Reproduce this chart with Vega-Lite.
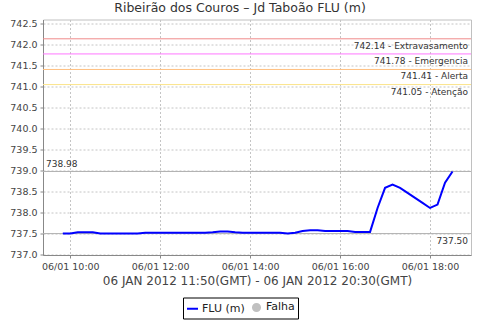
{
  "$schema": "https://vega.github.io/schema/vega-lite/v6.json",
  "width": 428,
  "height": 235.5,
  "autosize": "none",
  "padding": {"left": 43, "top": 19.5, "right": 9, "bottom": 65},
  "background": "white",
  "title": {"text": "Ribeirão dos Couros – Jd Taboão FLU (m)", "anchor": "middle", "dx": -17, "offset": 4, "fontSize": 12.5, "font": "DejaVu Sans", "fontWeight": "normal", "color": "#333333"},
  "config": {
    "view": {"stroke": "#c0c0c0", "strokeWidth": 1},
    "axis": {"labelFont": "DejaVu Sans", "titleFont": "DejaVu Sans", "labelColor": "#444444", "titleColor": "#444444", "domainColor": "#888888", "tickColor": "#888888", "tickSize": 3, "labelFontSize": 9.5}
  },
  "datasets": {
    "flu": [
      {"t": "2012-01-06T09:50:00", "y": 737.50},
      {"t": "2012-01-06T10:00:00", "y": 737.50},
      {"t": "2012-01-06T10:10:00", "y": 737.53},
      {"t": "2012-01-06T10:20:00", "y": 737.53},
      {"t": "2012-01-06T10:30:00", "y": 737.53},
      {"t": "2012-01-06T10:40:00", "y": 737.50},
      {"t": "2012-01-06T10:50:00", "y": 737.50},
      {"t": "2012-01-06T11:00:00", "y": 737.50},
      {"t": "2012-01-06T11:10:00", "y": 737.50},
      {"t": "2012-01-06T11:20:00", "y": 737.50},
      {"t": "2012-01-06T11:30:00", "y": 737.50},
      {"t": "2012-01-06T11:40:00", "y": 737.52},
      {"t": "2012-01-06T11:50:00", "y": 737.52},
      {"t": "2012-01-06T12:00:00", "y": 737.52},
      {"t": "2012-01-06T12:10:00", "y": 737.52},
      {"t": "2012-01-06T12:20:00", "y": 737.52},
      {"t": "2012-01-06T12:30:00", "y": 737.52},
      {"t": "2012-01-06T12:40:00", "y": 737.52},
      {"t": "2012-01-06T12:50:00", "y": 737.52},
      {"t": "2012-01-06T13:00:00", "y": 737.52},
      {"t": "2012-01-06T13:10:00", "y": 737.53},
      {"t": "2012-01-06T13:20:00", "y": 737.55},
      {"t": "2012-01-06T13:30:00", "y": 737.55},
      {"t": "2012-01-06T13:40:00", "y": 737.53},
      {"t": "2012-01-06T13:50:00", "y": 737.52},
      {"t": "2012-01-06T14:00:00", "y": 737.52},
      {"t": "2012-01-06T14:10:00", "y": 737.52},
      {"t": "2012-01-06T14:20:00", "y": 737.52},
      {"t": "2012-01-06T14:30:00", "y": 737.52},
      {"t": "2012-01-06T14:40:00", "y": 737.52},
      {"t": "2012-01-06T14:50:00", "y": 737.50},
      {"t": "2012-01-06T15:00:00", "y": 737.52},
      {"t": "2012-01-06T15:10:00", "y": 737.56},
      {"t": "2012-01-06T15:20:00", "y": 737.58},
      {"t": "2012-01-06T15:30:00", "y": 737.58},
      {"t": "2012-01-06T15:40:00", "y": 737.56},
      {"t": "2012-01-06T15:50:00", "y": 737.56},
      {"t": "2012-01-06T16:00:00", "y": 737.56},
      {"t": "2012-01-06T16:10:00", "y": 737.56},
      {"t": "2012-01-06T16:20:00", "y": 737.54},
      {"t": "2012-01-06T16:30:00", "y": 737.54},
      {"t": "2012-01-06T16:40:00", "y": 737.54},
      {"t": "2012-01-06T16:50:00", "y": 738.11},
      {"t": "2012-01-06T17:00:00", "y": 738.59},
      {"t": "2012-01-06T17:10:00", "y": 738.67},
      {"t": "2012-01-06T17:20:00", "y": 738.59},
      {"t": "2012-01-06T17:30:00", "y": 738.47},
      {"t": "2012-01-06T17:40:00", "y": 738.35},
      {"t": "2012-01-06T17:50:00", "y": 738.23},
      {"t": "2012-01-06T18:00:00", "y": 738.11},
      {"t": "2012-01-06T18:10:00", "y": 738.19},
      {"t": "2012-01-06T18:20:00", "y": 738.71},
      {"t": "2012-01-06T18:30:00", "y": 738.98}
    ],
    "niveis": [
      {"nivel": "Extravasamento", "y": 742.14, "label": "742.14 - Extravasamento"},
      {"nivel": "Emergencia", "y": 741.78, "label": "741.78 - Emergencia"},
      {"nivel": "Alerta", "y": 741.41, "label": "741.41 - Alerta"},
      {"nivel": "Atenção", "y": 741.05, "label": "741.05 - Atenção"}
    ],
    "extremos": [
      {"tipo": "max", "y": 738.98, "label": "738.98"},
      {"tipo": "min", "y": 737.50, "label": "737.50"}
    ]
  },
  "encoding": {
    "y": {"field": "y", "type": "quantitative",
      "scale": {"domain": [736.99, 742.6], "nice": false, "zero": false},
      "axis": {"values": [737, 737.5, 738, 738.5, 739, 739.5, 740, 740.5, 741, 741.5, 742, 742.5], "format": ".1f", "title": null, "labelPadding": 3, "labelOverlap": false, "grid": true, "gridColor": "#c4c4c4", "gridDash": [2, 2], "gridWidth": 1}}
  },
  "layer": [
    {
      "data": {"name": "flu"},
      "transform": [{"calculate": "'FLU (m)'", "as": "serie"}],
      "mark": {"type": "line", "opacity": 0},
      "encoding": {
        "x": {"field": "t", "type": "temporal",
          "scale": {"domain": [{"year": 2012, "month": 1, "date": 6, "hours": 9, "minutes": 23, "seconds": 36}, {"year": 2012, "month": 1, "date": 6, "hours": 18, "minutes": 54, "seconds": 40}], "nice": false},
          "axis": {"values": [{"year": 2012, "month": 1, "date": 6, "hours": 10}, {"year": 2012, "month": 1, "date": 6, "hours": 12}, {"year": 2012, "month": 1, "date": 6, "hours": 14}, {"year": 2012, "month": 1, "date": 6, "hours": 16}, {"year": 2012, "month": 1, "date": 6, "hours": 18}],
            "format": "%d/%m %H:%M", "labelPadding": 3, "labelOverlap": false, "grid": true, "gridColor": "#c4c4c4", "gridDash": [2, 2], "gridWidth": 1,
            "title": "06 JAN 2012 11:50(GMT) - 06 JAN 2012 20:30(GMT)", "titleFontSize": 12, "titleFontWeight": "normal", "titlePadding": 5}}
      }
    },
    {
      "data": {"name": "niveis"},
      "mark": {"type": "rule", "strokeWidth": 1},
      "encoding": {
        "stroke": {"field": "nivel", "type": "nominal", "legend": null,
          "scale": {"domain": ["Extravasamento", "Emergencia", "Alerta", "Atenção"], "range": ["#f08a8a", "#ff77ff", "#ffc080", "#fbe48a"]}}
      }
    },
    {
      "data": {"name": "niveis"},
      "mark": {"type": "text", "align": "right", "baseline": "top", "dx": -3, "dy": 3, "font": "DejaVu Sans", "fontSize": 9, "color": "#333333"},
      "encoding": {"x": {"value": 428}, "text": {"field": "label"}}
    },
    {
      "data": {"name": "extremos"},
      "mark": {"type": "rule", "stroke": "#b0b0b0", "strokeWidth": 1},
      "encoding": {}
    },
    {
      "data": {"name": "extremos"},
      "transform": [{"filter": "datum.tipo == 'max'"}],
      "mark": {"type": "text", "align": "left", "baseline": "alphabetic", "dx": 3, "dy": -4, "font": "DejaVu Sans", "fontSize": 9, "color": "#333333"},
      "encoding": {"x": {"value": 0}, "text": {"field": "label"}}
    },
    {
      "data": {"name": "extremos"},
      "transform": [{"filter": "datum.tipo == 'min'"}],
      "mark": {"type": "text", "align": "right", "baseline": "top", "dx": -3, "dy": 3, "font": "DejaVu Sans", "fontSize": 9, "color": "#333333"},
      "encoding": {"x": {"value": 428}, "text": {"field": "label"}}
    },
    {
      "data": {"name": "flu"},
      "transform": [{"calculate": "'FLU (m)'", "as": "serie"}],
      "mark": {"type": "line", "strokeWidth": 2},
      "encoding": {
        "x": {"field": "t", "type": "temporal"},
        "color": {"field": "serie", "type": "nominal",
          "scale": {"domain": ["FLU (m)", "Falha"], "range": ["#0000ff", "#c0c0c0"]},
          "legend": {"orient": "none", "direction": "horizontal", "legendX": 140, "legendY": 278, "title": null,
            "strokeColor": "#000000", "padding": 3, "labelFont": "DejaVu Sans", "labelFontSize": 11, "labelColor": "#222222", "labelOffset": 3, "columnPadding": 3, "symbolSize": 121, "symbolStrokeWidth": 2, "labelLimit": 60,
            "encode": {
              "legend": {"update": {"height": {"value": 16}}},
              "symbols": {"update": {
              "shape": {"signal": "datum.value == 'Falha' ? 'circle' : 'stroke'"},
              "fill": {"signal": "datum.value == 'Falha' ? '#c0c0c0' : 'transparent'"},
              "stroke": {"signal": "datum.value == 'Falha' ? 'transparent' : '#0000ff'"},
              "size": {"signal": "datum.value == 'Falha' ? 50 : 121"}
            }}}}}
      }
    }
  ]
}
